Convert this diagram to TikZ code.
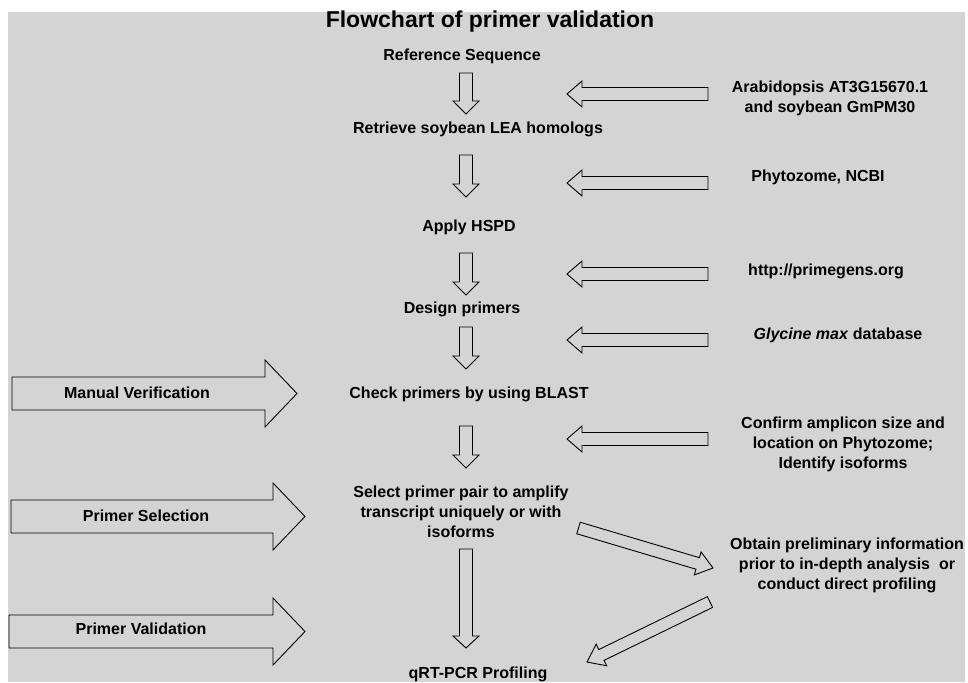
\documentclass[tikz,border=0pt]{standalone}
\usepackage{fontspec}
\setmainfont{Liberation Sans}
\usetikzlibrary{calc}
\definecolor{bg}{RGB}{212,212,212}
\tikzset{
  blk/.style={draw=black, fill=bg, line width=0.9pt, line join=miter},
  lbl/.style={font=\fontsize{16}{20}\selectfont\bfseries, inner sep=0pt, align=center, text=black},
  one/.style={lbl, text height=11.6pt, text depth=3.4pt},
  ttl/.style={font=\fontsize{23}{27}\selectfont\bfseries, inner sep=0pt, text=black},
}
% #1 tail, #2 tip, #3 half shaft width, #4 half head width, #5 head length
\newcommand{\blockarrow}[5]{%
  \coordinate (hb) at ($(#2)!#5!(#1)$);
  \draw[blk] ($(#1)!#3!90:(#2)$) -- ($(hb)!#3!90:(#2)$) -- ($(hb)!#4!90:(#2)$) -- (#2)
     -- ($(hb)!#4!-90:(#2)$) -- ($(hb)!#3!-90:(#2)$) -- ($(#1)!#3!-90:(#2)$) -- cycle;
}
\begin{document}
\begin{tikzpicture}[x=1pt,y=-1pt]
\useasboundingbox (0,0) rectangle (968,682);
\fill[white] (0,0) rectangle (968,682);
\fill[bg] (8,12) rectangle (965,682);

% title
\node[ttl] (title) at (490,22) {Flowchart of primer validation};

% main column
\node[one] (ref) at (462,56) {Reference Sequence};
\node[one] (ret) at (478,129) {Retrieve soybean LEA homologs};
\node[one] (hspd) at (469,227) {Apply HSPD};
\node[one] (des) at (462,309) {Design primers};
\node[one] (chk) at (469,394) {Check primers by using BLAST};
\node[lbl] (sel) at (461,512) {Select primer pair to amplify\\transcript uniquely or with\\isoforms};
\node[one] (qrt) at (478,674) {qRT-PCR Profiling};

% right sources
\node[lbl] (src1) at (830,98) {Arabidopsis AT3G15670.1\\and soybean GmPM30};
\node[one] (src2) at (818,177) {Phytozome, NCBI};
\node[one] (src3) at (826,271) {http://primegens.org};
\node[one] (src4) at (838,335) {\textit{Glycine max} database};
\node[lbl] (src5) at (843,444) {Confirm amplicon size and\\location on Phytozome;\\Identify isoforms};
\node[lbl] (obt) at (847,565) {Obtain preliminary information\\prior to in-depth analysis\ \ or\\conduct direct profiling};

% left stage labels
\node[one] (mv) at (137,394) {Manual Verification};
\node[one] (ps) at (146,517) {Primer Selection};
\node[one] (pv) at (141,630) {Primer Validation};

% arrow end coordinates
\coordinate (v1a) at (466,73);  \coordinate (v1b) at (466,114);
\coordinate (v2a) at (466,155); \coordinate (v2b) at (466,197);
\coordinate (v3a) at (466,253); \coordinate (v3b) at (466,295);
\coordinate (v4a) at (466,327); \coordinate (v4b) at (466,369);
\coordinate (v5a) at (466,426); \coordinate (v5b) at (466,468);
\coordinate (v6a) at (466,549); \coordinate (v6b) at (466,648);

\coordinate (r1a) at (708,94);  \coordinate (r1b) at (567,94);
\coordinate (r2a) at (708,183); \coordinate (r2b) at (567,183);
\coordinate (r3a) at (708,274); \coordinate (r3b) at (567,274);
\coordinate (r4a) at (708,340); \coordinate (r4b) at (567,340);
\coordinate (r5a) at (708,439); \coordinate (r5b) at (567,439);

\coordinate (l1a) at (12,393.5); \coordinate (l1b) at (297,393.5);
\coordinate (l2a) at (11,516.5); \coordinate (l2b) at (305,516.5);
\coordinate (l3a) at (9,631.5);  \coordinate (l3b) at (305,631.5);

\coordinate (d1a) at (578.5,528); \coordinate (d1b) at (713,568);
\coordinate (d2a) at (710,602);   \coordinate (d2b) at (587,662);

% vertical arrows
\blockarrow{v1a}{v1b}{6.5pt}{13pt}{13pt}
\blockarrow{v2a}{v2b}{6.5pt}{13pt}{13pt}
\blockarrow{v3a}{v3b}{6.5pt}{13pt}{13pt}
\blockarrow{v4a}{v4b}{6.5pt}{13pt}{13pt}
\blockarrow{v5a}{v5b}{6.5pt}{13pt}{13pt}
\blockarrow{v6a}{v6b}{6.5pt}{13pt}{12pt}

% right arrows
\blockarrow{r1a}{r1b}{6.5pt}{13pt}{15pt}
\blockarrow{r2a}{r2b}{6.5pt}{13pt}{15pt}
\blockarrow{r3a}{r3b}{6.5pt}{13pt}{15pt}
\blockarrow{r4a}{r4b}{6.5pt}{13pt}{15pt}
\blockarrow{r5a}{r5b}{6.5pt}{13pt}{15pt}

% left big arrows
\blockarrow{l1a}{l1b}{16.5pt}{33.5pt}{32pt}
\blockarrow{l2a}{l2b}{16.5pt}{33.5pt}{32pt}
\blockarrow{l3a}{l3b}{16.5pt}{33.5pt}{32pt}

% diagonal arrows
\blockarrow{d1a}{d1b}{6pt}{12pt}{16pt}
\blockarrow{d2a}{d2b}{6pt}{12pt}{16pt}

% redraw stage labels on top of big arrows
\node[one] at (mv) {Manual Verification};
\node[one] at (ps) {Primer Selection};
\node[one] at (pv) {Primer Validation};
\end{tikzpicture}
\end{document}
